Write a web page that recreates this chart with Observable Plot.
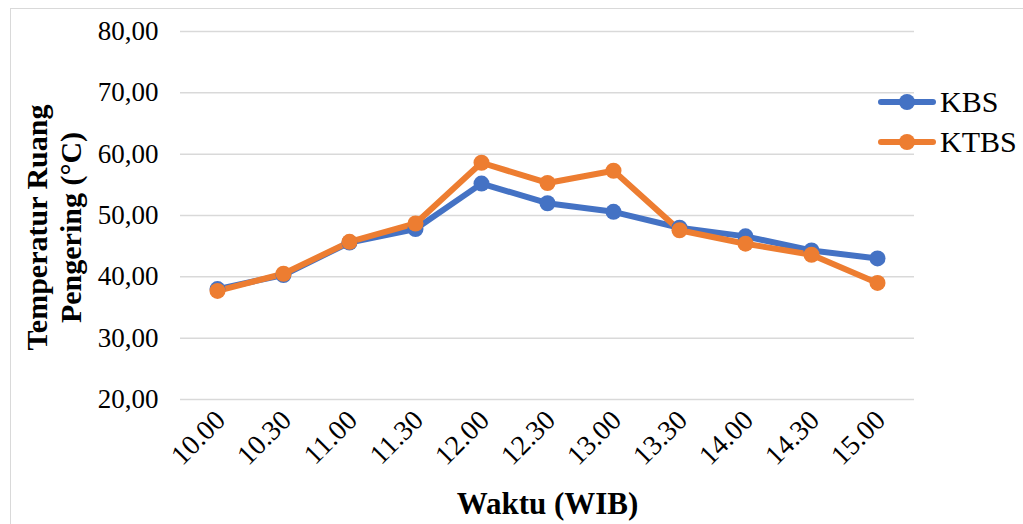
<!DOCTYPE html>
<html>
<head>
<meta charset="utf-8">
<script src="https://cdn.jsdelivr.net/npm/d3@7"></script>
<script src="https://cdn.jsdelivr.net/npm/@observablehq/plot@0.6"></script>
<style>
  html, body { margin: 0; padding: 0; background: #fff; }
  #wrap { position: relative; width: 1023px; height: 524px; overflow: hidden; font-family: "Liberation Serif", "Times New Roman", serif; }
  #border { position: absolute; left: 10px; top: 8px; width: 1040px; height: 540px; border: 1px solid #d9d9d9; box-sizing: border-box; }
  #legend { position: absolute; left: 878px; top: 82px; }
  .item { display: flex; align-items: center; height: 40px; font-size: 30px; color: #000; }
  .item svg { margin-right: 4px; }
</style>
</head>
<body>
<div id="wrap">
  <div id="border"></div>
  <div id="chart"></div>
  <div id="legend"></div>
</div>
<script>
const categories = ["10.00","10.30","11.00","11.30","12.00","12.30","13.00","13.30","14.00","14.30","15.00"];
const kbs  = [38.0, 40.3, 45.6, 47.8, 55.2, 52.0, 50.6, 48.0, 46.6, 44.3, 43.0];
const ktbs = [37.7, 40.5, 45.7, 48.7, 58.6, 55.3, 57.3, 47.6, 45.4, 43.6, 39.0];
const seriesNames = ["KBS", "KTBS"];
const colors = ["#4472C4", "#ED7D31"];
const yTicks = [20, 30, 40, 50, 60, 70, 80];

const data = [];
categories.forEach((c, i) => {
  data.push({time: c, value: kbs[i], series: "KBS"});
  data.push({time: c, value: ktbs[i], series: "KTBS"});
});

const fmt = d => d.toFixed(2).replace(".", ",");

const chart = Plot.plot({
  width: 1023,
  height: 524,
  marginLeft: 180,
  marginRight: 109,
  marginTop: 31,
  marginBottom: 125,
  style: {fontFamily: "'Liberation Serif', 'Times New Roman', serif", background: "transparent", overflow: "visible"},
  x: {type: "point", domain: categories, padding: 0.5, label: null},
  y: {domain: [20, 80], label: null},
  color: {domain: seriesNames, range: colors},
  marks: [
    Plot.gridY(yTicks, {stroke: "#d9d9d9", strokeOpacity: 1, strokeWidth: 1.5}),
    Plot.axisY(yTicks, {tickSize: 0, tickPadding: 22, tickFormat: fmt, fontSize: 27, fill: "#000"}),
    Plot.axisX(categories, {tickSize: 0, tickPadding: 16, tickRotate: -45, fontSize: 28, fill: "#000", dx: 3}),
    Plot.line(data, {x: "time", y: "value", z: "series", stroke: "series", strokeWidth: 6, strokeLinejoin: "round", strokeLinecap: "round"}),
    Plot.dot(data, {x: "time", y: "value", fill: "series", r: 8, stroke: null}),
    Plot.text(["Waktu (WIB)"], {frameAnchor: "bottom", dy: 114, fontSize: 31, fontWeight: "bold", fill: "#000"}),
    Plot.text(["Temperatur Ruang\nPengering (°C)"], {frameAnchor: "left", textAnchor: "middle", rotate: -90, dx: -127, dy: 12, fontSize: 30, fontWeight: "bold", fill: "#000", lineHeight: 1.13})
  ]
});
document.getElementById("chart").appendChild(chart);

const legend = document.getElementById("legend");
seriesNames.forEach((name, i) => {
  const div = document.createElement("div");
  div.className = "item";
  div.innerHTML = `<svg width="58" height="20"><line x1="3" y1="10" x2="55" y2="10" stroke="${colors[i]}" stroke-width="6" stroke-linecap="round"/><circle cx="29" cy="10" r="8" fill="${colors[i]}"/></svg><span>${name}</span>`;
  legend.appendChild(div);
});
</script>
</body>
</html>
